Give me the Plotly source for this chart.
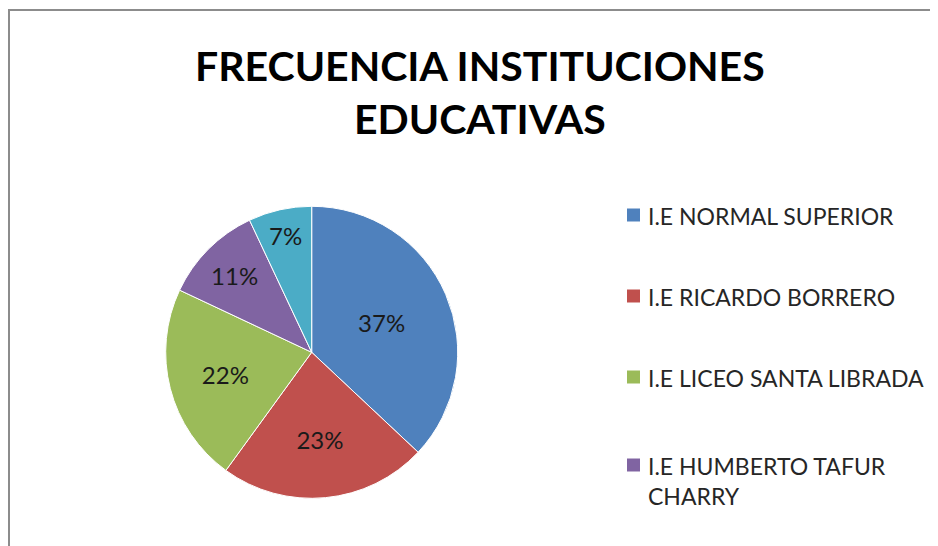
import plotly.graph_objects as go

# Datos
instituciones = ['I.E NORMAL SUPERIOR', 'I.E RICARDO BORRERO', 'I.E LICEO SANTA LIBRADA',
                 'I.E HUMBERTO TAFUR<br>CHARRY', 'I.E OTRAS']
porcentajes = [37, 23, 22, 11, 7]
colores = ['#4F81BD', '#C0504D', '#9BBB59', '#8064A2', '#4BACC6']
leyenda_visible = 4  # la quinta entrada queda fuera del recorte

# la página añade 8px de margen, así que la figura ocupa el resto
OFF = 8
W, H = 938 - OFF, 546 - OFF
fuente = 'Lato, Open Sans, sans-serif'


def px_x(x):
    return (x - OFF) / W


def px_y(y):
    return 1 - (y - OFF) / H


cx, cy, r = 311.7, 352.3, 146

fig = go.Figure(go.Pie(
    labels=instituciones,
    values=porcentajes,
    sort=False,
    direction='clockwise',
    rotation=0,
    marker=dict(colors=colores, line=dict(color='white', width=1)),
    texttemplate='%{percent:.0%}',
    textposition='inside',
    insidetextorientation='horizontal',
    textfont=dict(family=fuente, size=24, color='#1a1a1a'),
    domain=dict(x=[px_x(cx - r), px_x(cx + r)], y=[px_y(cy + r), px_y(cy - r)]),
    showlegend=False,
    hoverinfo='label+percent',
))

# Leyenda dibujada a mano (solo las 4 entradas visibles)
filas_y = [215, 296, 377, 465]
for nombre, color, fy in zip(instituciones[:leyenda_visible], colores, filas_y):
    fig.add_shape(type='rect', xref='paper', yref='paper',
                  x0=px_x(627), x1=px_x(640), y0=px_y(fy + 6.5), y1=px_y(fy - 6.5),
                  fillcolor=color, line=dict(width=0))
    fig.add_annotation(text=nombre, xref='paper', yref='paper',
                       x=px_x(646), y=px_y(fy - 15), xanchor='left', yanchor='top',
                       align='left', showarrow=False,
                       font=dict(family=fuente, size=23, color='#262626'))

# Borde del gráfico
fig.add_shape(type='rect', xref='paper', yref='paper',
              x0=px_x(9), x1=1.02, y0=-0.02, y1=px_y(10),
              line=dict(color='#8c8c8c', width=2), fillcolor='rgba(0,0,0,0)')

fig.add_annotation(text='<b>FRECUENCIA INSTITUCIONES<br>EDUCATIVAS</b>',
                   xref='paper', yref='paper', x=px_x(480), y=px_y(92),
                   xanchor='center', yanchor='middle', showarrow=False,
                   font=dict(family=fuente, size=41, color='black'))

fig.update_layout(
    width=W, height=H,
    margin=dict(l=0, r=0, t=0, b=0),
    paper_bgcolor='white',
)

fig.write_html('out.html')
